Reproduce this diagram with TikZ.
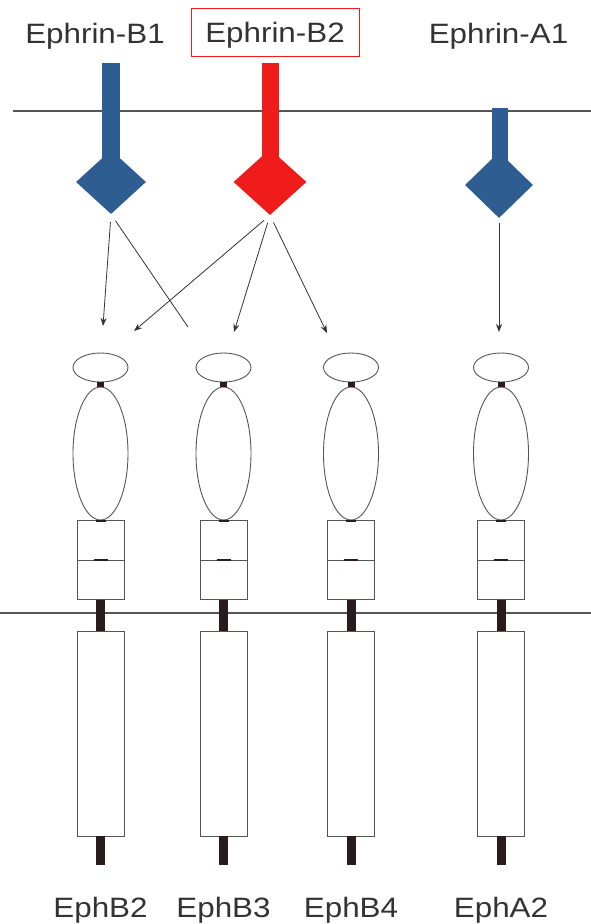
\documentclass[tikz,border=0pt]{standalone}
\usepackage{fontspec}
\setmainfont{Liberation Sans}
\newfontfamily\labfont[FakeStretch=1.12]{Liberation Sans}
\usetikzlibrary{shapes.geometric,arrows.meta}
\definecolor{ephblue}{HTML}{2E5D92}
\definecolor{ephred}{HTML}{F01B1B}
\definecolor{stalkc}{HTML}{2A1C1C}
\definecolor{outl}{HTML}{555555}
\definecolor{txt}{HTML}{333333}
\begin{document}
\begin{tikzpicture}[x=1pt,y=-1pt,
  lab/.style={font=\labfont\fontsize{28}{30}\selectfont, text=txt, inner sep=0pt},
  membrane/.style={draw=outl, line width=1.1pt},
  stemnode/.style={inner sep=0pt, anchor=north},
  ligand/.style={diamond, inner sep=0pt, minimum width=70, minimum height=64},
  smallell/.style={ellipse, draw=outl, line width=0.9pt, inner sep=0pt, minimum width=55, minimum height=29},
  bigell/.style={ellipse, draw=outl, line width=0.9pt, inner sep=0pt, minimum width=55, minimum height=133},
  domainbox/.style={rectangle, draw=outl, line width=0.9pt, inner sep=0pt, minimum width=47, minimum height=39.5},
  kinasebox/.style={rectangle, draw=outl, line width=0.9pt, inner sep=0pt, minimum width=47, minimum height=205},
  stalk/.style={draw=stalkc, line width=9pt},
  neck/.style={draw=stalkc, line width=7pt},
  arr/.style={draw=txt, line width=0.8pt, -{Stealth[length=8pt,width=6pt,inset=2.5pt]}},
  plain/.style={draw=txt, line width=0.8pt}
]
\useasboundingbox[fill=white] (0,0) rectangle (591,924);

% membranes
\coordinate (m1l) at (13,111);
\coordinate (m1r) at (591,111);
\coordinate (m2l) at (0,613);
\coordinate (m2r) at (591,613);
\draw[membrane] (m1l) -- (m1r);
\draw[membrane] (m2l) -- (m2r);

% ligand labels
\node[lab, anchor=base] (l1) at (95,43) {Ephrin-B1};
\node[lab, draw=ephred, line width=0.8pt, minimum width=168, minimum height=48,
      text height=20, text depth=0pt] (l2) at (275,32) {Ephrin-B2};
\node[lab, anchor=base] (l3) at (498.5,43) {Ephrin-A1};

% ligands
\node[stemnode, fill=ephblue, minimum width=18, minimum height=119] (st1) at (111,63) {};
\node[ligand, fill=ephblue] (d1) at (111,182) {};
\node[stemnode, fill=ephred, minimum width=17, minimum height=119] (st2) at (270,63) {};
\node[ligand, fill=ephred, minimum width=73, minimum height=66] (d2) at (270,182) {};
\node[stemnode, fill=ephblue, minimum width=16, minimum height=76] (st3) at (500,108) {};
\node[ligand, fill=ephblue, minimum width=68, minimum height=66] (d3) at (499,185) {};

% arrow targets
\coordinate (t1) at (103,326);
\coordinate (t1b) at (188,327);
\coordinate (t2a) at (134,331);
\coordinate (t2b) at (234,332);
\coordinate (t2c) at (327,333);
\coordinate (t3) at (499,332);

\draw[arr, shorten <=8pt] (d1.south) -- (t1);
\draw[plain, shorten <=8pt] (d1.south) -- (t1b);
\draw[arr, shorten <=8pt] (d2.south) -- (t2a);
\draw[arr, shorten <=8pt] (d2.south) -- (t2b);
\draw[arr, shorten <=8pt] (d2.south) -- (t2c);
\draw[arr, shorten <=5pt] (d3.south) -- (t3);

% receptors
\foreach \c/\n/\lbl in {100.5/1/EphB2, 223.5/2/EphB3, 351/3/EphB4, 501/4/EphA2} {
  \node[smallell] (s\n) at (\c,367.5) {};
  \node[bigell] (b\n) at (\c,453.5) {};
  \node[domainbox] (ra\n) at (\c,540.5) {};
  \node[domainbox] (rb\n) at (\c,580) {};
  \node[kinasebox] (k\n) at (\c,733.5) {};
  \coordinate (e\n) at (\c,865);
  \draw[neck] (s\n.south) -- (b\n.north);
  \draw[stalkc, line width=2pt] (\c-5,520.5) -- (\c+5,520.5);
  \draw[stalkc, line width=2pt] (\c-7,560) -- (\c+7,560);
  \draw[stalk] (rb\n.south) -- (k\n.north);
  \draw[stalk] (k\n.south) -- (e\n);
  \node[lab, anchor=base] (n\n) at (\c,917) {\lbl};
}
\end{tikzpicture}
\end{document}
